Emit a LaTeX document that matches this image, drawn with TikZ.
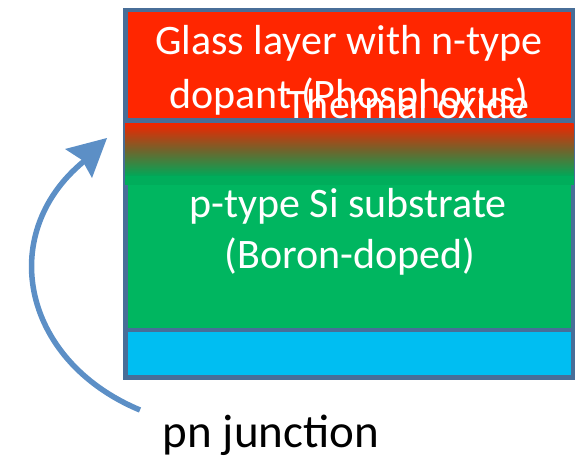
\documentclass[tikz,border=0pt]{standalone}
\usepackage{fontspec}
\setmainfont{Carlito}
\definecolor{glassred}{RGB}{255,38,0}
\definecolor{sigreen}{RGB}{0,182,96}
\definecolor{backcyan}{RGB}{0,190,242}
\definecolor{edgeblue}{RGB}{72,110,152}
\definecolor{arrowblue}{RGB}{92,143,198}
\tikzset{
  layer/.style={draw=edgeblue, line width=4.5pt},
  whitetxt/.style={text=white, inner sep=0pt, anchor=base, font=\fontsize{42}{53}\selectfont},
  blacktxt/.style={text=black, inner sep=0pt, anchor=base, font=\fontsize{47}{56}\selectfont},
}
\begin{document}
\begin{tikzpicture}[x=1pt,y=-1pt]
\useasboundingbox (0,0) rectangle (575,460);
% layers
\draw[layer, fill=sigreen] (125.5,120.5) rectangle (573,330);
\draw[layer, fill=backcyan] (125.5,330) rectangle (573,377.5);
\draw[layer, fill=glassred] (125.5,10) rectangle (573,120.5);
% thermal oxide gradient
\shade[top color=glassred!95!black, bottom color=sigreen!92!black, middle color=glassred!50!sigreen!90!black] (125,123) rectangle (573.5,176);
\fill[sigreen!95!black] (125,176) rectangle (573.5,185);
% texts
\node[whitetxt] (g1) at (349,55) {Glass layer with n-type};
\node[whitetxt] (g2) at (349,108) {dopant (Phosphorus)};
\node[whitetxt] (ox) at (408,118) {Thermal oxide};
\node[whitetxt] (s1) at (348,217) {p-type Si substrate};
\node[whitetxt] (s2) at (350,268) {(Boron-doped)};
\node[blacktxt] (pn) at (271,447) {pn junction};
% arrow
\coordinate (tail) at (140,410);
\coordinate (tip) at (107,138);
\draw[arrowblue, line width=5.5pt] (tail) .. controls (20,360) and (-5,230) .. (88,158);
\fill[arrowblue] (tip) -- (65,149) -- (82,160) -- (92,178) -- cycle;
\end{tikzpicture}
\end{document}
